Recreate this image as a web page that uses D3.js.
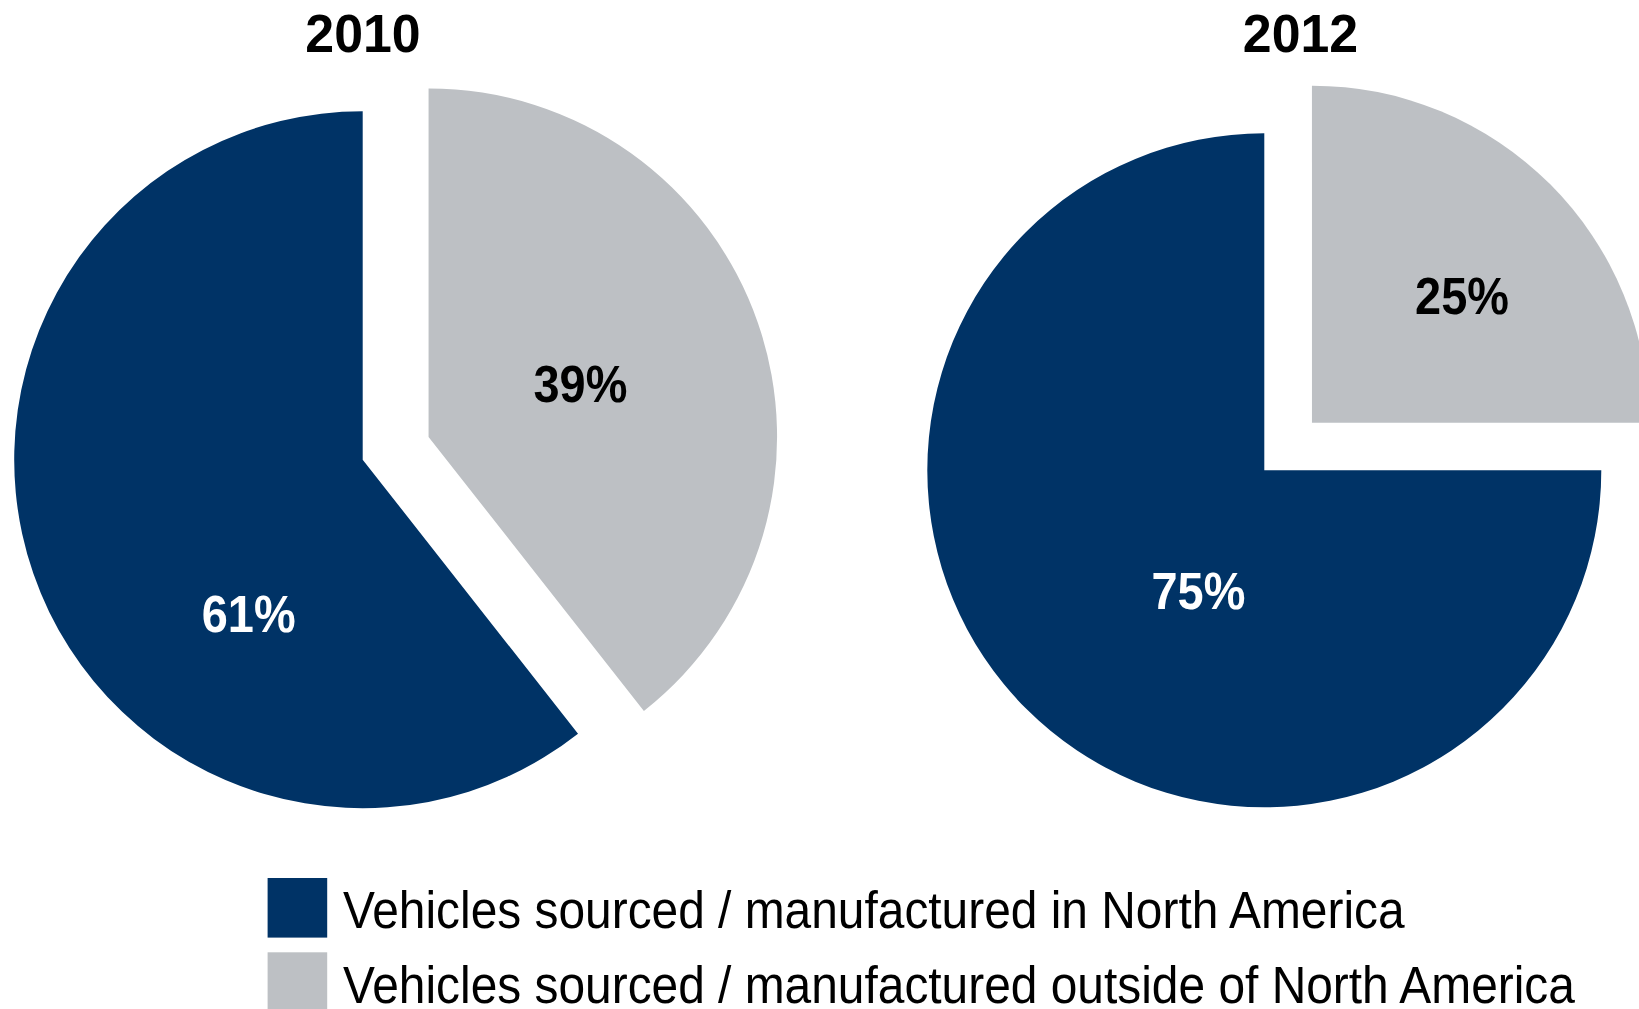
<!DOCTYPE html>
<html>
<head>
<meta charset="utf-8">
<script src="https://cdn.jsdelivr.net/npm/d3@7"></script>
<style>
  html, body { margin: 0; padding: 0; background: #fff; overflow: hidden; }
  svg { display: block; font-family: "Liberation Sans", Arial, sans-serif; }
</style>
</head>
<body>
<svg width="1639" height="1009"></svg>
<script>
// Chart data (slice sizes, labels shown rounded)
const years = ["2010", "2012"];
const categories = [
  "Vehicles sourced / manufactured in North America",
  "Vehicles sourced / manufactured outside of North America"
];
const insideNA = [60.6, 75];
const outsideNA = [39.4, 25];

const colors = ["#003366", "#BDC0C4"];

// Layout (one entry per pie)
const pies = [
  { cx: 362.7, cy: 459.7, r: 348.5, titleX: 363 },
  { cx: 1264.3, cy: 470.3, r: 337, titleX: 1300.5 }
];
const explode = 0.2; // fraction of radius the outside slice is pulled out
// label placement [angle in degrees from 12 o'clock, fraction of radius]
const labelPolar = [
  { inside: [216.5, 0.55], outside: [70.6, 0.462] },
  { inside: [208.7, 0.407], outside: [49.8, 0.583] }
];
const squeeze = 0.92; // text is a bit narrow in the original

const svg = d3.select("svg");

years.forEach(function (year, i) {
  const p = pies[i];
  const g = svg.append("g");

  // slices run clockwise from 12 o'clock: outside first, then inside
  const slices = [
    { key: "outside", value: outsideNA[i], color: colors[1], text: "#000" },
    { key: "inside", value: insideNA[i], color: colors[0], text: "#fff" }
  ];
  const pie = d3.pie().sort(null).value((d) => d.value);
  const arcs = pie(slices);
  const arc = d3.arc().innerRadius(0).outerRadius(p.r);

  arcs.forEach(function (a) {
    const mid = (a.startAngle + a.endAngle) / 2;
    const off = a.data.key === "outside" ? explode * p.r : 0;
    const sx = p.cx + Math.sin(mid) * off;
    const sy = p.cy - Math.cos(mid) * off;

    g.append("path")
      .attr("transform", `translate(${sx},${sy})`)
      .attr("d", arc(a))
      .attr("fill", a.data.color);

    const lp = labelPolar[i][a.data.key];
    const ang = (lp[0] * Math.PI) / 180;
    const lx = sx + Math.sin(ang) * lp[1] * p.r;
    const ly = sy - Math.cos(ang) * lp[1] * p.r;
    const fs = 51;
    g.append("text")
      .attr("transform", `translate(${lx},${ly + fs * 0.358}) scale(${squeeze},1)`)
      .attr("text-anchor", "middle")
      .attr("font-size", fs)
      .attr("font-weight", "bold")
      .attr("fill", a.data.text)
      .text(Math.round(a.data.value) + "%");
  });

  // year title
  svg.append("text")
    .attr("transform", `translate(${p.titleX},52.3) scale(${squeeze + 0.04},1)`)
    .attr("text-anchor", "middle")
    .attr("font-size", 54)
    .attr("font-weight", "bold")
    .attr("fill", "#000")
    .text(year);
});

// Legend
const legend = svg.append("g").attr("transform", "translate(267.6,878)");
categories.forEach(function (c, i) {
  const row = legend.append("g").attr("transform", `translate(0,${i * 74.3})`);
  row.append("rect")
    .attr("width", 59.6)
    .attr("height", 59.6)
    .attr("fill", colors[i]);
  row.append("text")
    .attr("transform", `translate(75.3,50.2) scale(0.912,1)`)
    .attr("font-size", 52.5)
    .attr("fill", "#000")
    .text(c);
});
</script>
</body>
</html>
